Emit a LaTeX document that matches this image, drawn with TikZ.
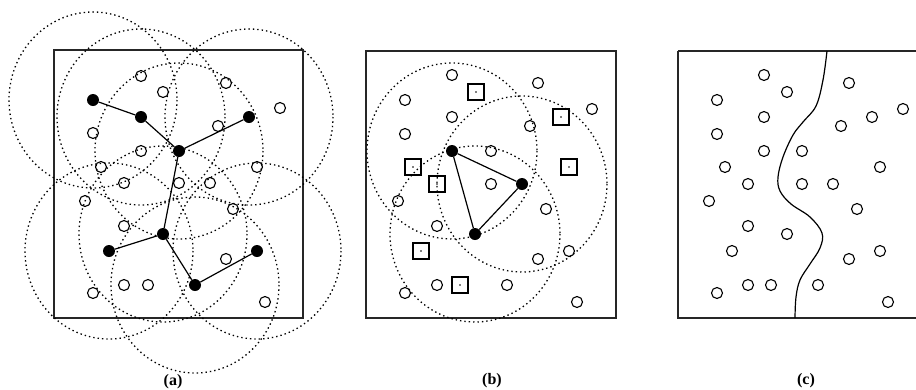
\documentclass[tikz,border=0pt]{standalone}
\usepackage{fontspec}
\setmainfont{Liberation Serif}
\begin{document}
\begin{tikzpicture}[x=1pt,y=-1pt,
  opennode/.style={circle,draw,line width=1.1pt,minimum size=11pt,inner sep=0pt},
  sensornode/.style={circle,fill,minimum size=12pt,inner sep=0pt},
  sqnode/.style={rectangle,draw,line width=1.1pt,minimum size=16pt,inner sep=0pt},
  linkline/.style={line width=1.2pt},
  rangering/.style={line width=1.3pt,dash pattern=on 1.4pt off 3pt},
  framebox/.style={line width=1.3pt,black!85},
  labtext/.style={font=\fontsize{16}{18}\selectfont\bfseries}]
\useasboundingbox (0,0) rectangle (916,389);
\clip (0,0) rectangle (916,389);
% ---------------- panel (a)
\draw[framebox] (54,50) rectangle (303,318);
\node[sensornode] (a1) at (93,100) {};
\node[sensornode] (a2) at (141,117) {};
\node[sensornode] (a3) at (179,151) {};
\node[sensornode] (a4) at (249,117) {};
\node[sensornode] (a5) at (163,234) {};
\node[sensornode] (a6) at (109,251) {};
\node[sensornode] (a7) at (195,285) {};
\node[sensornode] (a8) at (257,251) {};
\foreach \n in {a1,a2,a3,a4,a5,a6,a7,a8}
  \draw[rangering] (\n.center) ellipse [x radius=84, y radius=88];
\draw[linkline] (a1) -- (a2) -- (a3) -- (a4);
\draw[linkline] (a3) -- (a5);
\draw[linkline] (a5) -- (a6);
\draw[linkline] (a5) -- (a7) -- (a8);
\foreach \p [count=\i] in {(141,76),(163,92),(226,83),(280,108),(93,133),(218,126),(141,151),(101,167),(257,167),(124,183),(179,183),(210,183),(85,201),(233,209),(124,226),(226,259),(124,285),(148,285),(93,293),(265,302)}
  \node[opennode] (ao\i) at \p {};
\node[labtext] (la) at (173,382) {(a)};
% ---------------- panel (b)
\draw[framebox] (366,51) rectangle (616,318);
\node[sensornode] (b1) at (452,151) {};
\node[sensornode] (b2) at (522,184) {};
\node[sensornode] (b3) at (475,234) {};
\foreach \n in {b1,b2,b3}
  \draw[rangering] (\n.center) ellipse [x radius=85, y radius=88];
\draw[linkline] (b1) -- (b2) -- (b3) -- (b1);
\foreach \p [count=\i] in {(452,75),(538,83),(405,100),(592,109),(452,117),(530,126),(405,134),(491,151),(491,184),(398,201),(546,209),(437,226),(569,251),(538,259),(437,285),(507,285),(405,293),(577,302)}
  \node[opennode] (bo\i) at \p {};
\foreach \p [count=\i] in {(476,92),(561,117),(413,167),(569,167),(437,184),(421,251),(460,285)}
  {\node[sqnode] (bs\i) at \p {};
   \fill (bs\i.center) circle (0.9pt);}
\node[labtext] (lb) at (492,381) {(b)};
% ---------------- panel (c)
\draw[framebox] (678,51) -- (930,51);
\draw[framebox] (678,51) -- (678,318) -- (930,318);
\coordinate (ctop) at (827,51);
\coordinate (cbot) at (795,318);
\draw[linkline] plot[smooth,tension=0.6] coordinates {(ctop) (823,80) (816,106) (803,122) (793,135) (783,157) (778,177) (780,191) (791,204) (810,217) (822,233) (820,248) (810,264) (800,280) (796,297) (cbot)};
\foreach \p [count=\i] in {(764,75),(849,83),(717,100),(787,92),(903,109),(764,117),(872,117),(841,126),(717,134),(764,151),(802,151),(725,167),(880,167),(748,184),(802,184),(833,184),(709,201),(857,209),(748,226),(787,234),(732,251),(880,251),(849,259),(748,285),(771,285),(818,285),(717,293),(888,302)}
  \node[opennode] (co\i) at \p {};
\node[labtext] (lc) at (806,381) {(c)};
\end{tikzpicture}
\end{document}
